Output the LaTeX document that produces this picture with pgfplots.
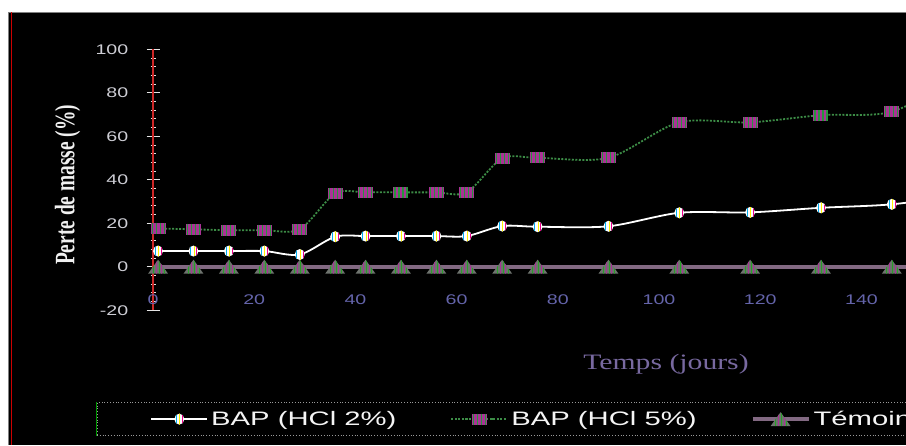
\documentclass[border=0pt]{standalone}
\usepackage{graphicx}
\usepackage{pgfplots}
\pgfplotsset{compat=1.18}
\usepackage{pgfplotstable}
\usepackage{fontspec}
\setmainfont{Liberation Sans}
\newfontfamily\tickfont[FakeStretch=1.4]{Liberation Sans}
\newfontfamily\legfont[FakeStretch=1.5]{Liberation Sans}
\newfontfamily\serifB{Liberation Serif}
\newfontfamily\serifX[FakeStretch=1.35]{Liberation Serif}

\definecolor{tickx}{RGB}{100,100,170}
\definecolor{ticky}{RGB}{205,205,212}
\definecolor{labx}{RGB}{120,105,160}
\definecolor{sqm}{RGB}{170,50,150}
\definecolor{sqg}{RGB}{40,150,60}
\definecolor{sqline}{RGB}{60,140,70}
\definecolor{trig}{RGB}{110,115,110}
\definecolor{trigreen}{RGB}{40,160,40}
\definecolor{trimag}{RGB}{170,50,150}
\definecolor{temline}{RGB}{130,105,130}
\definecolor{axred}{RGB}{205,40,40}

\pgfdeclareplotmark{stripcirc}{%
  \pgfpathellipse{\pgfpointorigin}{\pgfpoint{5pt}{0pt}}{\pgfpoint{0pt}{5.5pt}}%
  \pgfsetfillcolor{white}\pgfusepathqfill
  \begin{pgfscope}
  \pgfpathellipse{\pgfpointorigin}{\pgfpoint{5pt}{0pt}}{\pgfpoint{0pt}{5.5pt}}%
  \pgfusepathqclip
  \pgfsetlinewidth{1pt}%
  \pgfsetstrokecolor{cyan}%
  \pgfpathmoveto{\pgfpoint{-2.8pt}{-6pt}}\pgfpathlineto{\pgfpoint{-2.8pt}{6pt}}\pgfusepathqstroke
  \pgfsetstrokecolor{yellow}%
  \pgfpathmoveto{\pgfpoint{0.6pt}{-6pt}}\pgfpathlineto{\pgfpoint{0.6pt}{6pt}}\pgfusepathqstroke
  \pgfsetstrokecolor{magenta}%
  \pgfpathmoveto{\pgfpoint{3.4pt}{-6pt}}\pgfpathlineto{\pgfpoint{3.4pt}{6pt}}\pgfusepathqstroke
  \end{pgfscope}
}
\pgfdeclareplotmark{stripsq}{%
  \pgfpathrectangle{\pgfpoint{-7.5pt}{-5.5pt}}{\pgfpoint{15pt}{11pt}}%
  \pgfsetfillcolor{sqm}\pgfusepathqfill
  \pgfsetlinewidth{1.1pt}\pgfsetstrokecolor{sqg}%
  \pgfpathmoveto{\pgfpoint{-6pt}{-5.5pt}}\pgfpathlineto{\pgfpoint{-6pt}{5.5pt}}%
  \pgfpathmoveto{\pgfpoint{-2pt}{-5.5pt}}\pgfpathlineto{\pgfpoint{-2pt}{5.5pt}}%
  \pgfpathmoveto{\pgfpoint{2pt}{-5.5pt}}\pgfpathlineto{\pgfpoint{2pt}{5.5pt}}%
  \pgfpathmoveto{\pgfpoint{6pt}{-5.5pt}}\pgfpathlineto{\pgfpoint{6pt}{5.5pt}}%
  \pgfusepathqstroke
}
\pgfdeclareplotmark{striptri}{%
  \pgfpathmoveto{\pgfpoint{-10pt}{-7pt}}\pgfpathlineto{\pgfpoint{10pt}{-7pt}}%
  \pgfpathlineto{\pgfpoint{0pt}{7pt}}\pgfpathclose
  \pgfsetfillcolor{trig}\pgfusepathqfill
  \begin{pgfscope}
  \pgfpathmoveto{\pgfpoint{-10pt}{-7pt}}\pgfpathlineto{\pgfpoint{10pt}{-7pt}}%
  \pgfpathlineto{\pgfpoint{0pt}{7pt}}\pgfpathclose
  \pgfusepathqclip
  \pgfsetlinewidth{1pt}\pgfsetstrokecolor{trigreen}%
  \pgfpathmoveto{\pgfpoint{-5pt}{-7pt}}\pgfpathlineto{\pgfpoint{-5pt}{7pt}}%
  \pgfpathmoveto{\pgfpoint{1pt}{-7pt}}\pgfpathlineto{\pgfpoint{1pt}{7pt}}%
  \pgfpathmoveto{\pgfpoint{6pt}{-7pt}}\pgfpathlineto{\pgfpoint{6pt}{7pt}}%
  \pgfusepathqstroke
  \pgfsetstrokecolor{trimag}%
  \pgfpathmoveto{\pgfpoint{-2pt}{-7pt}}\pgfpathlineto{\pgfpoint{-2pt}{7pt}}%
  \pgfpathmoveto{\pgfpoint{3.5pt}{-7pt}}\pgfpathlineto{\pgfpoint{3.5pt}{7pt}}%
  \pgfusepathqstroke
  \end{pgfscope}
}

\pgfplotstableread{
x y
1 7.2
8 7.2
15 7.2
22 7.2
29 5.6
36 13.8
42 14.1
49 14.1
56 14.1
62 14.1
69 18.7
76 18.4
90 18.6
104 24.8
118 25.0
132 27.1
146 28.7
160 33.0
}\bapdeux

\pgfplotstableread{
x y
1 17.6
8 17.2
15 16.8
22 16.8
29 17.2
36 33.7
42 34.2
49 34.2
56 34.2
62 34.2
69 49.8
76 50.1
90 50.1
104 66.4
118 66.4
132 69.7
146 71.3
160 88.0
}\bapcinq

\pgfplotstableread{
x y
1 0
8 0
15 0
22 0
29 0
36 0
42 0
49 0
56 0
62 0
69 0
76 0
90 0
104 0
118 0
132 0
146 0
160 0
}\temoin

\begin{document}
\begin{tikzpicture}
\useasboundingbox (0,0) rectangle (906pt,-445pt);
\fill[white] (0,0) rectangle (906pt,-445pt);
\fill[black] (8pt,-12pt) rectangle (906pt,-445pt);
\draw[gray, line width=0.8pt] (8pt,-12.4pt) -- (906pt,-12.4pt);
\draw[gray, line width=0.8pt] (8.6pt,-12pt) -- (8.6pt,-445pt);
\draw[red!80!black, line width=0.9pt] (11.5pt,-12pt) -- (11.5pt,-445pt);
\clip (0,0) rectangle (906pt,-445pt);
\begin{axis}[
  scale only axis,
  width=753pt, height=260.9pt,
  at={(153pt,-310.2pt)}, anchor=south west,
  xmin=0, xmax=148.8, ymin=-20, ymax=100,
  axis x line*=bottom, axis y line*=left,
  x axis line style={draw=none},
  y axis line style={draw=axred, line width=1.1pt},
  xtick={0,20,...,140}, ytick={-20,0,...,100},
  minor y tick num=4,
  tick align=center,
  major tick length=13pt, minor tick length=5pt,
  ytick style={draw=white!80!gray, line width=0.8pt},
  every minor tick/.append style={draw=white!75!red, line width=0.7pt},
  xtick style={draw=none},
  /pgf/number format/assume math mode=true,
  ticklabel style={font=\tickfont\fontsize{14}{16}\selectfont},
  yticklabel style={text=ticky, anchor=east, inner sep=0pt, xshift=-18pt},
  xticklabel style={text=tickx, anchor=center, inner sep=0pt, yshift=17.2pt},
  clip=false,
  legend columns=3,
  legend image code/.code={%
    \draw[mark repeat=2,mark phase=2] plot coordinates {(0pt,0pt) (28pt,0pt) (56pt,0pt)};},
  legend style={name=leg, at={(-0.075,-0.353)}, anchor=north west,
    fill=black, draw=gray!80, dotted, line width=0.8pt,
    text=white!92!gray, font=\legfont\fontsize{19.5}{22}\selectfont,
    inner xsep=53.5pt, inner ysep=6.5pt,
    cells={anchor=west, inner sep=0pt},
    /tikz/every odd column/.append style={column sep=1pt},
    /tikz/every even column/.append style={column sep=52pt}},
]
\addplot[solid, white, line width=1.8pt, smooth, tension=0.5, mark=stripcirc] table[x=x,y=y] {\bapdeux};
\addlegendentry{BAP (HCl 2\%)}
\addplot[sqline, line width=1.8pt, dash pattern=on 2pt off 1.5pt, smooth, tension=0.5, mark=stripsq, mark options={solid}] table[x=x,y=y] {\bapcinq};
\addlegendentry{BAP (HCl 5\%)}
\addplot[solid, temline, line width=4pt, mark=striptri] table[x=x,y=y] {\temoin};
\addlegendentry{Témoin}
\end{axis}
\draw[green!60!black, line width=1.2pt, solid] (leg.north west) -- (leg.south west);
\node[rotate=90, text=white!88!gray, inner sep=0pt] at (67.5pt,-185pt)
  {\scalebox{1}[1.45]{\serifB\bfseries\fontsize{19.4}{22}\selectfont Perte de masse (\%)}};
\node[text=labx, inner sep=0pt] at (666pt,-364pt)
  {\serifX\fontsize{22}{26}\selectfont Temps (jours)};
\end{tikzpicture}
\end{document}
